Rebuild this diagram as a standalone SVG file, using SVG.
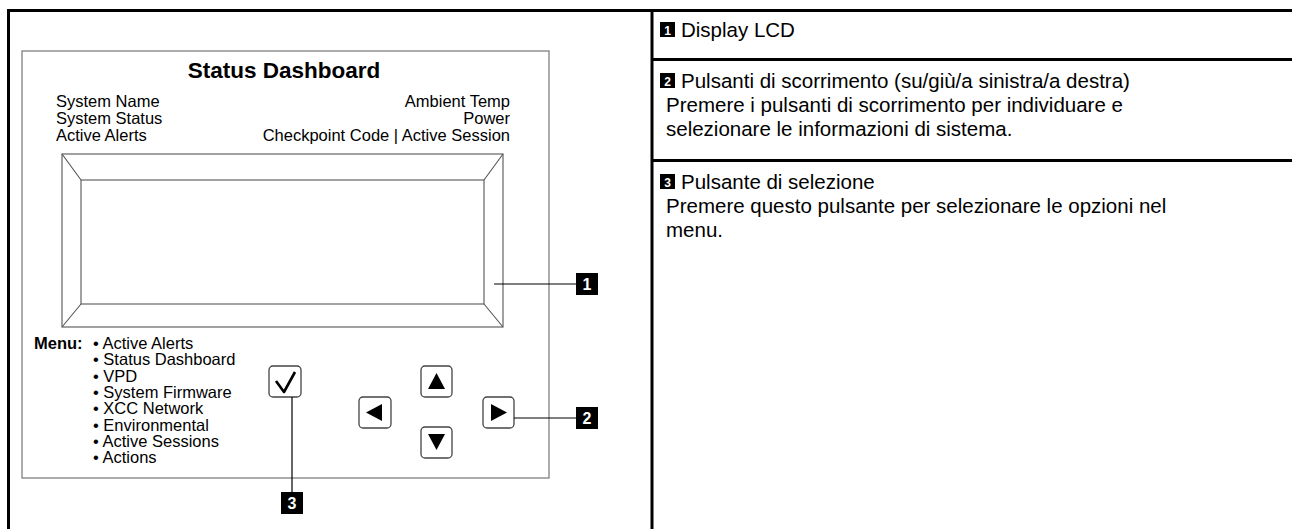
<svg xmlns="http://www.w3.org/2000/svg" width="1292" height="529" viewBox="0 0 1292 529">
<style>
.tbl{stroke:#000;stroke-width:3;fill:none}
.box{stroke:#808080;stroke-width:1.3;fill:none}
.scr{stroke:#555;stroke-width:1.1;fill:none}
.btn{stroke:#444;stroke-width:1.3;fill:#fff}
.lead{stroke:#000;stroke-width:1.2;fill:none}
.t{font-family:"Liberation Sans",Arial,sans-serif;fill:#000}
.s{font-size:16.5px}
.r{font-size:20.5px}
.bd{fill:#000}
.bn{font-family:"Liberation Sans",Arial,sans-serif;font-weight:bold;fill:#fff;text-anchor:middle}
</style>
<rect width="1292" height="529" fill="#fff"/>
<g id="table">
<path class="tbl" d="M7 10.5H1292M8.5 9V529M652 9V529M652 59.5H1292M652 160.5H1292"/>
</g>
<g id="panel">
<rect class="box" x="22" y="51" width="527" height="427"/>
<text class="t" x="284" y="78" font-size="22.5" font-weight="bold" text-anchor="middle">Status Dashboard</text>
<text class="t s" x="56" y="107">System Name</text>
<text class="t s" x="56" y="124">System Status</text>
<text class="t s" x="56" y="141">Active Alerts</text>
<text class="t s" x="510" y="107" text-anchor="end">Ambient Temp</text>
<text class="t s" x="510" y="124" text-anchor="end">Power</text>
<text class="t s" x="510" y="141" text-anchor="end">Checkpoint Code | Active Session</text>
</g>
<g id="lcd">
<rect class="scr" x="62" y="154" width="441" height="173"/>
<rect class="scr" x="81" y="180" width="403" height="124"/>
<path class="scr" d="M62 154L81 180M503 154L484 180M62 327L81 304M503 327L484 304"/>
</g>
<g id="menu">
<text class="t s" x="34" y="349" font-weight="bold">Menu:</text>
<g class="t s">
<text x="93" y="349">• Active Alerts</text>
<text x="93" y="365.3">• Status Dashboard</text>
<text x="93" y="381.6">• VPD</text>
<text x="93" y="397.9">• System Firmware</text>
<text x="93" y="414.2">• XCC Network</text>
<text x="93" y="430.5">• Environmental</text>
<text x="93" y="446.8">• Active Sessions</text>
<text x="93" y="463.1">• Actions</text>
</g>
</g>
<g id="btn-select">
<rect class="btn" x="269" y="366" width="32" height="31" rx="4"/>
<path d="M276 381L284 392L295 372" stroke="#000" stroke-width="2.6" fill="none" stroke-linejoin="round"/>
</g>
<g id="btn-up">
<rect class="btn" x="421" y="366" width="31" height="31" rx="4"/>
<path d="M436.5 373L445 389H428Z" fill="#000"/>
</g>
<g id="btn-left">
<rect class="btn" x="359" y="397" width="32" height="31" rx="4"/>
<path d="M366 412.5L382 404V421Z" fill="#000"/>
</g>
<g id="btn-right">
<rect class="btn" x="483" y="397" width="31" height="31" rx="4"/>
<path d="M507 412.5L491 404V421Z" fill="#000"/>
</g>
<g id="btn-down">
<rect class="btn" x="421" y="427" width="31" height="31" rx="4"/>
<path d="M436.5 450L445 434H428Z" fill="#000"/>
</g>
<g id="connectors">
<path class="lead" d="M494 284H576M514 418H576M292 397V492"/>
</g>
<g id="callout-1">
<rect class="bd" x="576" y="273" width="22" height="22"/>
<text class="bn" x="587" y="290" font-size="16">1</text>
</g>
<g id="callout-2">
<rect class="bd" x="576" y="407" width="22" height="22"/>
<text class="bn" x="587" y="424" font-size="16">2</text>
</g>
<g id="callout-3">
<rect class="bd" x="281" y="492" width="22" height="22"/>
<text class="bn" x="292" y="509" font-size="16">3</text>
</g>
<g id="row-1">
<rect class="bd" x="660" y="22" width="15" height="15"/>
<text class="bn" x="667.5" y="34.5" font-size="12">1</text>
<text class="t r" x="681" y="37">Display LCD</text>
</g>
<g id="row-2">
<rect class="bd" x="660" y="73" width="15" height="15"/>
<text class="bn" x="667.5" y="85.5" font-size="12">2</text>
<text class="t r" x="681" y="88">Pulsanti di scorrimento (su/giù/a sinistra/a destra)</text>
<text class="t r" x="666" y="112">Premere i pulsanti di scorrimento per individuare e</text>
<text class="t r" x="666" y="136">selezionare le informazioni di sistema.</text>
</g>
<g id="row-3">
<rect class="bd" x="660" y="174" width="15" height="15"/>
<text class="bn" x="667.5" y="186.5" font-size="12">3</text>
<text class="t r" x="681" y="189">Pulsante di selezione</text>
<text class="t r" x="666" y="213">Premere questo pulsante per selezionare le opzioni nel</text>
<text class="t r" x="666" y="237">menu.</text>
</g>
</svg>
